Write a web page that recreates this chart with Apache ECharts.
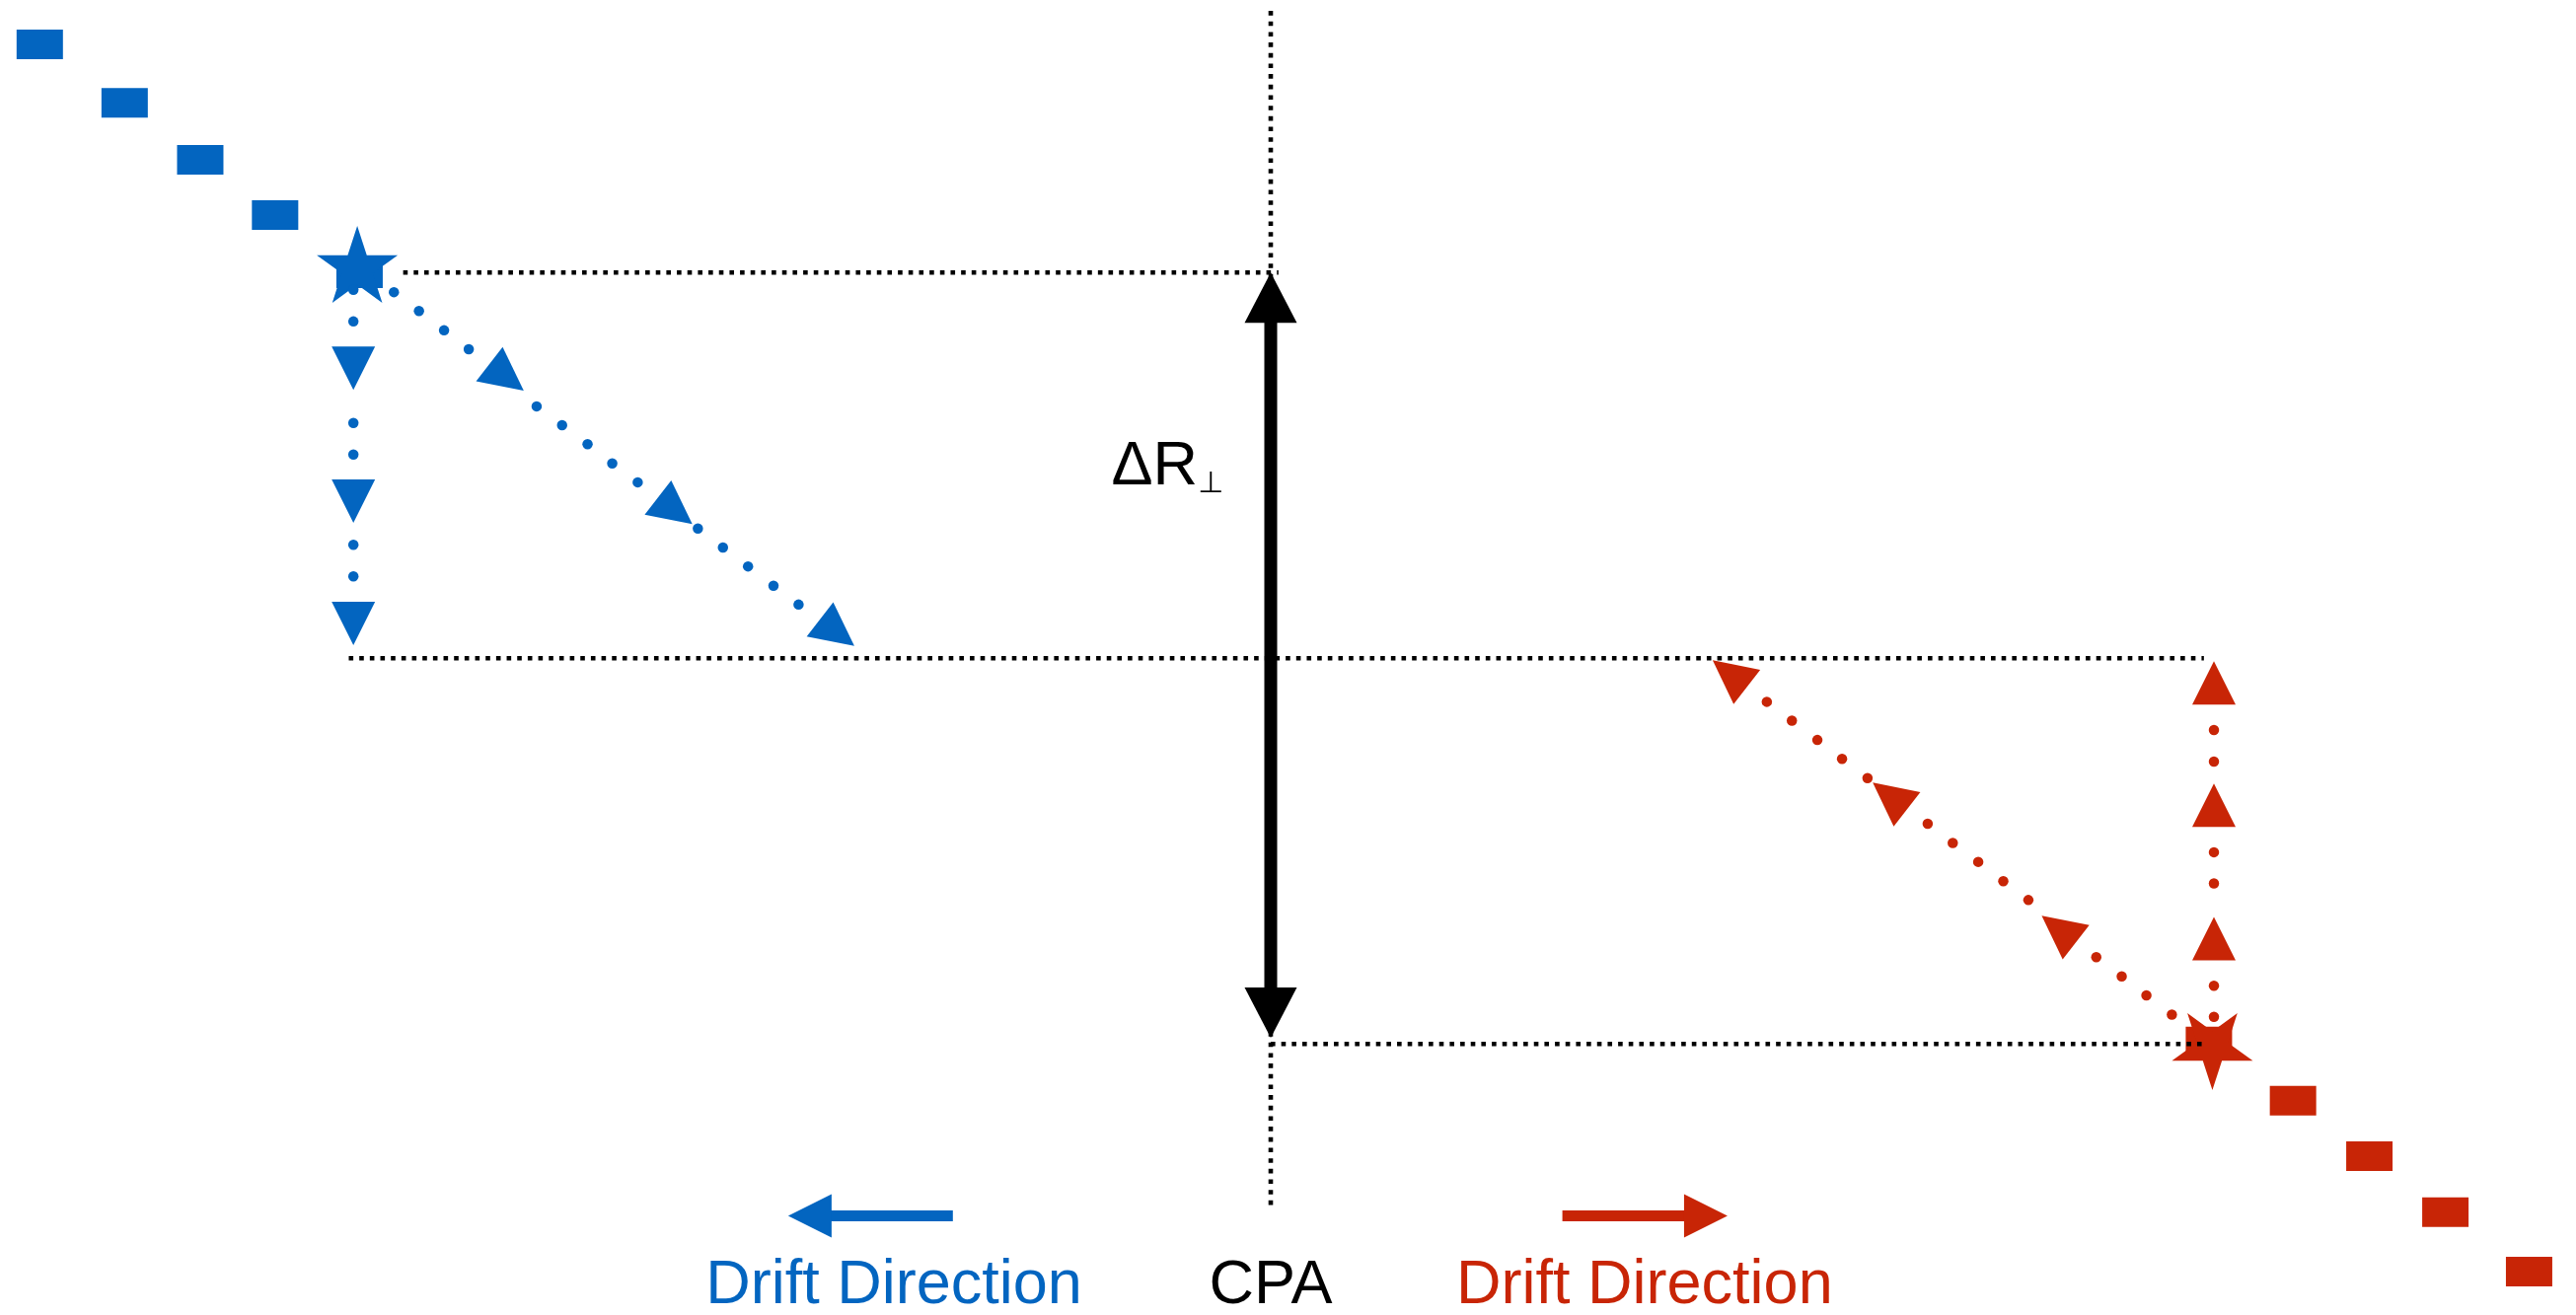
<!DOCTYPE html>
<html>
<head>
<meta charset="utf-8">
<title>Drift geometry around the CPA</title>
<script src="https://cdn.jsdelivr.net/npm/echarts@6/dist/echarts.min.js"></script>
<style>
  html, body { margin: 0; padding: 0; background: #ffffff; }
  #chart { width: 2611px; height: 1333px; }
</style>
</head>
<body>
<div id="chart"></div>
<script>
// Diagram units: the CPA sits at x = 0, the two drift levels at y = +1 and y = -1
// (the perpendicular separation dR spans two units) and the middle level at y = 0.

// Track history leading into each star (oldest first)
const blueTrack = [[-3.191, 1.591], [-2.971, 1.440], [-2.775, 1.292], [-2.581, 1.149], [-2.362, 0.998]];
const redTrack  = [[2.432, -0.994], [2.650, -1.147], [2.848, -1.291], [3.045, -1.436], [3.262, -1.590]];

// Current positions
const blueStar = [-2.368, 1.011];
const redStar  = [2.441, -1.010];

// Straight drift paths (dots and arrowheads, ordered from the star outward)
const blueDownDots  = [[-2.378, 0.955], [-2.378, 0.873], [-2.378, 0.610], [-2.378, 0.528], [-2.378, 0.294], [-2.378, 0.212]];
const blueDownHeads = [[-2.378, 0.752], [-2.378, 0.407], [-2.378, 0.090]];
const redUpDots     = [[2.445, -0.930], [2.445, -0.849], [2.445, -0.584], [2.445, -0.503], [2.445, -0.268], [2.445, -0.186]];
const redUpHeads    = [[2.445, -0.727], [2.445, -0.381], [2.445, -0.064]];

// Slanted drift paths
const blueSlantDots = [
  [-2.273, 0.949], [-2.208, 0.900], [-2.143, 0.850], [-2.079, 0.801],
  [-1.903, 0.653], [-1.837, 0.604], [-1.771, 0.555], [-1.707, 0.505], [-1.641, 0.456],
  [-1.485, 0.336], [-1.420, 0.287], [-1.355, 0.238], [-1.289, 0.188], [-1.224, 0.139]
];
const blueSlantHeads = [[-1.981, 0.728], [-1.544, 0.382], [-1.124, 0.066]];
const redSlantDots = [
  [2.336, -0.924], [2.270, -0.874], [2.206, -0.825], [2.140, -0.775],
  [1.964, -0.627], [1.899, -0.578], [1.834, -0.528], [1.768, -0.479], [1.703, -0.429],
  [1.547, -0.311], [1.481, -0.261], [1.417, -0.212], [1.351, -0.162], [1.286, -0.113]
];
const redSlantHeads = [[2.043, -0.702], [1.605, -0.357], [1.190, -0.040]];

// Reference levels (dotted black)
const cpaLine  = [[0, 1.678], [0, -1.418]];
const topLevel = [[-2.249, 1.0], [0.02, 1.0]];
const midLevel = [[-2.390, 0], [2.419, 0]];
const lowLevel = [[0, -1.0], [2.421, -1.0]];

// Arrows: [fromX, fromY, toX, toY]
const deltaR     = [[0, 1.0, 0, -0.984]];
const driftLeft  = [[-0.824, -1.446, -1.251, -1.446]];
const driftRight = [[0.756, -1.446, 1.184, -1.446]];

// Captions
const driftCaption = 'Drift Direction';
const cpaCaption = 'CPA';
const captionRow = -1.628;
const blueCaptionX = -0.977;
const cpaCaptionX = 0;
const redCaptionX = 0.969;
const deltaCaptionAt = [-0.413, 0.494];

const BLUE = '#0365C0';
const RED = '#C82506';
const FONT = "'Liberation Sans', Arial, Helvetica, sans-serif";

function starSymbol() {
  const pts = [];
  for (let k = 0; k < 10; k++) {
    const r = k % 2 === 0 ? 100 : 38.2;
    const a = -Math.PI / 2 + k * Math.PI / 5;
    pts.push((100 + r * Math.cos(a)).toFixed(2) + ',' + (100 + r * Math.sin(a)).toFixed(2));
  }
  return 'path://M' + pts.join(' L') + ' Z';
}

// Arrowheads point along their path (first head to last head)
function headRotation(heads) {
  const a = heads[0], b = heads[heads.length - 1];
  return Math.atan2(b[1] - a[1], b[0] - a[0]) * 180 / Math.PI - 90;
}

function arrowRenderer(shaftWidth, headLen, headWidth, doubleHead) {
  return function (params, api) {
    const a = api.coord([api.value(0), api.value(1)]);
    const b = api.coord([api.value(2), api.value(3)]);
    const dx = b[0] - a[0], dy = b[1] - a[1];
    const len = Math.hypot(dx, dy);
    const ux = dx / len, uy = dy / len, nx = -uy, ny = ux;
    const color = api.visual('color');
    const head = function (tip, dir) {
      const bx = tip[0] - dir * ux * headLen, by = tip[1] - dir * uy * headLen;
      return {
        type: 'polygon',
        shape: { points: [[tip[0], tip[1]], [bx + nx * headWidth / 2, by + ny * headWidth / 2], [bx - nx * headWidth / 2, by - ny * headWidth / 2]] },
        style: { fill: color }
      };
    };
    const inset = headLen - 2;
    const s0 = doubleHead ? [a[0] + ux * inset, a[1] + uy * inset] : a;
    const s1 = [b[0] - ux * inset, b[1] - uy * inset];
    const hw = shaftWidth / 2;
    const children = [{
      type: 'polygon',
      shape: { points: [
        [s0[0] + nx * hw, s0[1] + ny * hw], [s1[0] + nx * hw, s1[1] + ny * hw],
        [s1[0] - nx * hw, s1[1] - ny * hw], [s0[0] - nx * hw, s0[1] - ny * hw]
      ] },
      style: { fill: color }
    }, head(b, 1)];
    if (doubleHead) children.push(head(a, -1));
    return { type: 'group', children: children };
  };
}

function dottedLevel(points) {
  return {
    type: 'line', data: points, symbol: 'none', silent: true, z: 5,
    lineStyle: { color: '#000000', width: 4.6, type: [4.6, 6.07], cap: 'butt', opacity: 1 }
  };
}

function marks(points, color, symbol, size, extra) {
  return Object.assign({
    type: 'scatter', data: points, symbol: symbol, symbolSize: size, silent: true,
    itemStyle: { color: color, opacity: 1 }
  }, extra || {});
}

function caption(points, color, extra) {
  return {
    type: 'scatter', data: points, symbolSize: 1, silent: true, z: 7,
    itemStyle: { color: 'transparent', opacity: 1 },
    label: Object.assign({
      show: true, position: 'inside', formatter: '{b}', color: color, opacity: 1,
      textBorderWidth: 0, fontFamily: FONT, fontSize: 63, align: 'center', verticalAlign: 'middle'
    }, extra || {})
  };
}

const chart = echarts.init(document.getElementById('chart'), null, { renderer: 'canvas' });

chart.setOption({
  animation: false,
  backgroundColor: '#ffffff',
  grid: { left: 0, right: 0, top: 0, bottom: 0 },
  xAxis: { type: 'value', min: -3.2941, max: 3.3836, show: false },
  yAxis: { type: 'value', min: -1.7028, max: 1.7064, show: false },
  series: [
    // track history
    marks(blueTrack, BLUE, 'rect', [47, 30], { z: 2 }),
    marks(redTrack, RED, 'rect', [47, 30], { z: 2 }),
    // stars
    marks([blueStar], BLUE, starSymbol(), [82, 78], { z: 3, symbolOffset: [0, -4] }),
    marks([redStar], RED, starSymbol(), [82, 78], { z: 3, symbolRotate: 180, symbolOffset: [0, 4] }),
    // drift paths
    marks(blueDownDots, BLUE, 'circle', 10.5, { z: 4 }),
    marks(blueSlantDots, BLUE, 'circle', 10.5, { z: 4 }),
    marks(redUpDots, RED, 'circle', 10.5, { z: 4 }),
    marks(redSlantDots, RED, 'circle', 10.5, { z: 4 }),
    marks(blueDownHeads, BLUE, 'triangle', [44, 44], { z: 4, symbolRotate: headRotation(blueDownHeads) }),
    marks(blueSlantHeads, BLUE, 'triangle', [44, 44], { z: 4, symbolRotate: headRotation(blueSlantHeads) }),
    marks(redUpHeads, RED, 'triangle', [44, 44], { z: 4, symbolRotate: headRotation(redUpHeads) }),
    marks(redSlantHeads, RED, 'triangle', [44, 44], { z: 4, symbolRotate: headRotation(redSlantHeads) }),
    // reference levels
    dottedLevel(cpaLine),
    dottedLevel(topLevel),
    dottedLevel(midLevel),
    dottedLevel(lowLevel),
    // arrows
    {
      type: 'custom', coordinateSystem: 'cartesian2d', data: deltaR, silent: true, z: 6,
      encode: { x: [0, 2], y: [1, 3] }, itemStyle: { color: '#000000' },
      renderItem: arrowRenderer(13, 51, 53, true)
    },
    {
      type: 'custom', coordinateSystem: 'cartesian2d', data: driftLeft, silent: true, z: 6,
      encode: { x: [0, 2], y: [1, 3] }, itemStyle: { color: BLUE },
      renderItem: arrowRenderer(11, 44, 44, false)
    },
    {
      type: 'custom', coordinateSystem: 'cartesian2d', data: driftRight, silent: true, z: 6,
      encode: { x: [0, 2], y: [1, 3] }, itemStyle: { color: RED },
      renderItem: arrowRenderer(11, 44, 44, false)
    },
    // captions
    caption([{ name: driftCaption, value: [blueCaptionX, captionRow] }], BLUE),
    caption([{ name: cpaCaption, value: [cpaCaptionX, captionRow] }], '#000000'),
    caption([{ name: driftCaption, value: [redCaptionX, captionRow] }], RED),
    caption([{ name: 'dR', value: deltaCaptionAt }], '#000000', {
      align: 'left',
      formatter: '{d|\u0394R}{s|\u22A5}',
      rich: {
        d: { fontFamily: FONT, fontSize: 63, lineHeight: 64, color: '#000000' },
        s: { fontFamily: "'DejaVu Sans', sans-serif", fontSize: 30, lineHeight: 33, verticalAlign: 'bottom', color: '#000000' }
      }
    })
  ]
});
</script>
</body>
</html>
